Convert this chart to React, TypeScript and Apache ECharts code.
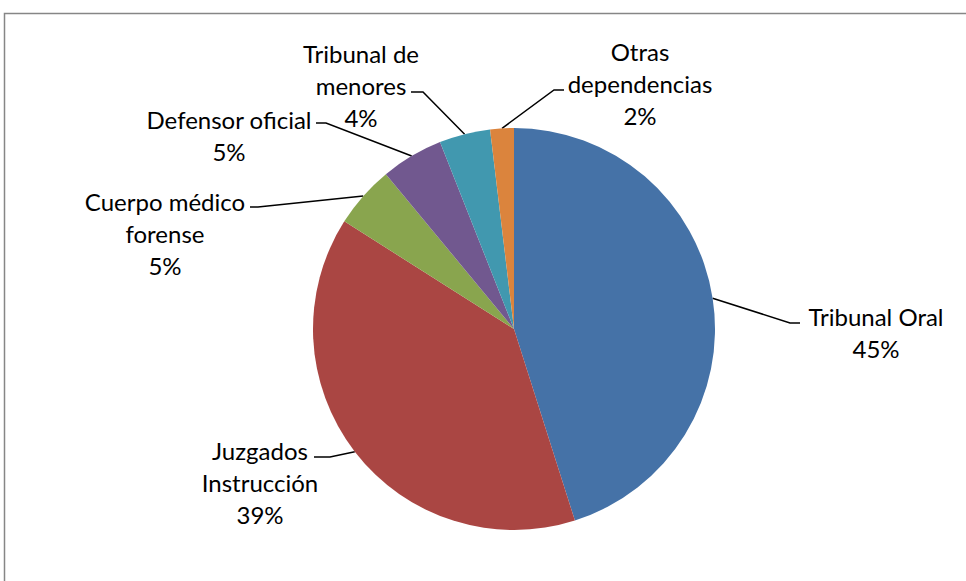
import React, { useEffect, useRef } from "react";
import * as echarts from "echarts";

const categories = [
  "Tribunal Oral",
  "Juzgados\nInstrucción",
  "Cuerpo médico\nforense",
  "Defensor oficial",
  "Tribunal de\nmenores",
  "Otras\ndependencias",
];
const values = [45.1, 38.9, 5.0, 5.0, 4.1, 1.9];
const colors = ["#4572A7", "#AA4643", "#89A54E", "#71588F", "#4198AF", "#DB843D"];

// label block centre and leader-line bend/end points (page pixels)
const labelPos: [number, number][] = [
  [876, 332],
  [260, 482],
  [165, 233],
  [229, 135],
  [361, 85],
  [640, 83],
];
const lineBends: [number, number][][] = [
  [[790, 323], [800, 323]],
  [[330, 457], [314, 457]],
  [[258, 207], [250, 207]],
  [[326, 123], [316, 123]],
  [[423, 92], [411, 92]],
  [[554, 90], [564, 90]],
];

export default function App() {
  const ref = useRef<HTMLDivElement>(null);
  useEffect(() => {
    if (!ref.current) return;
    const chart = echarts.init(ref.current, undefined, { renderer: "svg" });
    chart.setOption({
      animation: false,
      backgroundColor: "#ffffff",
      graphic: [
        {
          type: "rect",
          shape: { x: 4.5, y: 13.5, width: 1000, height: 700 },
          style: { fill: "none", stroke: "#868686", lineWidth: 1.5 },
          silent: true,
        },
      ],
      series: [
        {
          type: "pie",
          center: [514, 329],
          radius: [0, 201],
          startAngle: 90,
          clockwise: true,
          avoidLabelOverlap: false,
          data: categories.map((c, i) => ({
            name: c,
            value: values[i],
            itemStyle: { color: colors[i] },
          })),
          label: {
            show: true,
            position: "outside",
            formatter: (p: any) => `${p.name}\n${Math.round(p.percent)}%`,
            fontFamily: "Lato",
            fontSize: 24,
            lineHeight: 32,
            color: "#000000",
            align: "center",
          },
          labelLine: {
            show: true,
            length: 20,
            length2: 20,
            lineStyle: { color: "#000000", width: 1.5 },
          },
          labelLayout: (params: any) => {
            const i = params.dataIndex;
            const start = params.labelLinePoints ? params.labelLinePoints[0] : lineBends[i][0];
            return {
              x: labelPos[i][0],
              y: labelPos[i][1],
              align: "center",
              verticalAlign: "middle",
              labelLinePoints: [start, lineBends[i][0], lineBends[i][1]],
            };
          },
        },
      ],
    });
    return () => chart.dispose();
  }, []);
  return (
    <div
      ref={ref}
      style={{ position: "fixed", left: 0, top: 0, width: 966, height: 581 }}
    />
  );
}
